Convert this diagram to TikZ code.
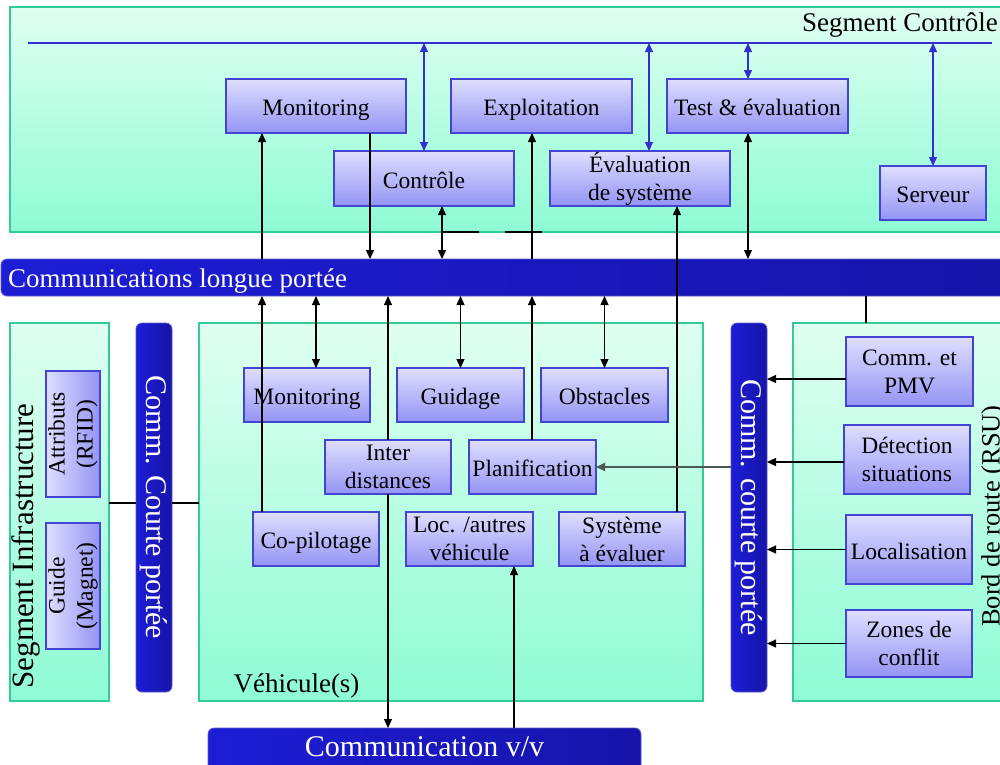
\documentclass[tikz,border=0pt]{standalone}
\usepackage{fontspec}
\setmainfont{Liberation Serif}
\usetikzlibrary{arrows.meta}

\definecolor{segTop}{HTML}{E0FFF1}
\definecolor{segBot}{HTML}{8EFBD5}
\definecolor{segLine}{HTML}{33CC99}
\definecolor{boxTop}{HTML}{DEDEFF}
\definecolor{boxBot}{HTML}{9494F4}
\definecolor{boxLine}{HTML}{4444D4}
\definecolor{barA}{HTML}{1D1DD6}
\definecolor{barB}{HTML}{1614A8}
\definecolor{barLine}{HTML}{5a5ad0}
\definecolor{busBlue}{HTML}{3030CC}
\definecolor{grayLine}{HTML}{4A5A50}

\newcommand\boxfont{\fontsize{23.5}{28}\selectfont}
\newcommand\rbox[7]{\node[#2, minimum width={#5pt-#3pt}, minimum height={#6pt-#4pt}] (#1) at ({(#3+#5)/2},{(#4+#6)/2}) {#7};}

\tikzset{
  seg/.style={draw=segLine, line width=1.2pt, top color=segTop, bottom color=segBot, inner sep=0pt, outer sep=0pt},
  blk/.style={draw=boxLine, line width=1.1pt, top color=boxTop, bottom color=boxBot, inner sep=0pt, outer sep=0pt, font=\boxfont, align=center},
  one/.style={text height=19pt, text depth=0pt},
  vblk/.style={draw=boxLine, line width=1.1pt, left color=boxTop, right color=boxBot, inner sep=0pt, outer sep=0pt},
  hbar/.style={draw=barLine, line width=0.8pt, left color=barA, right color=barB, rounded corners=6pt, inner sep=0pt, outer sep=0pt},
  wtext/.style={text=white, inner sep=0pt},
  conn/.style={line width=1.2pt, color=black},
  ar/.style={conn, -{Triangle[length=9pt,width=8pt]}},
  dar/.style={conn, {Triangle[length=9pt,width=8pt]}-{Triangle[length=9pt,width=8pt]}},
  bdarr/.style={dar, color=busBlue},
  thick2/.style={line width=2pt, color=black},
  garr/.style={line width=1.8pt, color=grayLine, -{Triangle[length=9pt,width=8pt]}},
}

\begin{document}
\begin{tikzpicture}[x=1pt,y=-1pt]
\clip (0,0) rectangle (1000,764);

% ---- segments
\rbox{sc}{seg}{10}{7}{1012}{232}{}
\rbox{infra}{seg}{10}{323}{109}{701}{}
\rbox{veh}{seg}{199}{323}{703}{701}{}
\rbox{rsu}{seg}{793}{323}{1012}{701}{}

% ---- bars
\rbox{clp}{hbar}{1}{259}{1014}{296}{}
\rbox{vv}{hbar}{208}{728}{641}{778}{}
\rbox{ccl}{hbar}{136}{323}{172}{692}{}
\rbox{ccr}{hbar}{731}{323}{767}{692}{}

% ---- labels
\node[anchor=base east, inner sep=0pt, font=\fontsize{27}{32}\selectfont] (lsc) at (998,31) {Segment Contr\^ole};
\node[wtext, anchor=base west, font=\fontsize{27}{32}\selectfont] (lclp) at (8,287) {Communications longue port\'ee};
\node[wtext, font=\fontsize{30}{34}\selectfont] (lvv) at (424.5,747) {Communication v/v};
\node[wtext, rotate=-90, font=\fontsize{30}{34}\selectfont] (lccl) at (ccl.center) {Comm. Courte port\'ee};
\node[wtext, rotate=-90, font=\fontsize{30}{34}\selectfont] (lccr) at (ccr.center) {Comm. courte port\'ee};
\node[rotate=90, inner sep=0pt, font=\fontsize{31}{36}\selectfont] (linfra) at (26,546) {Segment Infrastructure};
\node[anchor=base, inner sep=0pt, font=\fontsize{27}{32}\selectfont] (lveh) at (296.5,692) {V\'ehicule(s)};
\node[rotate=90, anchor=north, inner sep=0pt, font=\fontsize{26.5}{32}\selectfont] (lrsu) at (981,516) {Bord de route (RSU)};

% ---- bus line
\coordinate (bus) at (28,43);
\coordinate (busE) at (992,43);
\draw[line width=1.6pt, busBlue] (bus) -- (busE);

% ---- top boxes
\rbox{mon1}{blk,one}{226}{79}{406}{133}{Monitoring}
\rbox{exp}{blk,one}{451}{79}{632}{133}{Exploitation}
\rbox{tev}{blk,one}{667}{79}{848}{133}{Test \& \'evaluation}
\rbox{ctl}{blk,one}{334}{151}{514}{206}{Contr\^ole}
\rbox{evs}{blk}{550}{151}{730}{206}{\'Evaluation\\de syst\`eme}
\rbox{srv}{blk,one}{880}{166}{986}{220}{Serveur}

% ---- vehicle boxes
\rbox{mon2}{blk,one}{244}{368}{370}{422}{Monitoring}
\rbox{gui}{blk,one}{397}{368}{524}{422}{Guidage}
\rbox{obs}{blk,one}{541}{368}{668}{422}{Obstacles}
\rbox{idist}{blk}{325}{440}{451}{494}{Inter\\distances}
\rbox{pla}{blk,one}{469}{440}{596}{494}{Planification}
\rbox{cop}{blk,one}{253}{512}{379}{566}{Co-pilotage}
\rbox{loc}{blk}{406}{512}{533}{566}{Loc. /autres\\v\'ehicule}
\rbox{sys}{blk}{559}{512}{685}{566}{Syst\`eme\\\`a \'evaluer}

% ---- infrastructure boxes
\rbox{rfid}{vblk}{46}{371}{100}{497}{}
\rbox{mag}{vblk}{46}{523}{100}{649}{}
\node[rotate=90, align=center, inner sep=0pt, font=\boxfont] (lrfid) at (rfid.center) {Attributs\\(RFID)};
\node[rotate=90, align=center, inner sep=0pt, font=\boxfont] (lmag) at (mag.center) {Guide\\(Magnet)};

% ---- roadside boxes
\rbox{pmv}{blk}{846}{337}{973}{406}{Comm. et\\PMV}
\rbox{det}{blk}{844}{425}{970}{494}{D\'etection\\situations}
\rbox{loc2}{blk,one}{846}{515}{972}{584}{Localisation}
\rbox{zon}{blk}{846}{610}{972}{677}{Zones de\\conflit}

% ---- x / y reference coordinates
\coordinate (x262) at (262,0);
\coordinate (x316) at (316,0);
\coordinate (x370) at (370,0);
\coordinate (x388) at (388,0);
\coordinate (x442) at (442,0);
\coordinate (x479) at (479,0);
\coordinate (x505) at (505,0);
\coordinate (x532) at (532,0);
\coordinate (x542) at (542,0);
\coordinate (x514) at (514,0);
\coordinate (x649) at (649,0);
\coordinate (x677) at (677,0);
\coordinate (x748) at (748,0);
\coordinate (x866) at (866,0);
\coordinate (y379) at (0,379);
\coordinate (y462) at (0,462);
\coordinate (y503) at (0,503);

% ---- blue bus arrows
\draw[bdarr] (bus -| ctl.north) -- (ctl.north);
\draw[bdarr] (bus -| x649) -- (evs.north -| x649);
\draw[bdarr] (bus -| x748) -- (tev.north -| x748);
\draw[bdarr] (bus -| srv.north) -- (srv.north);

% ---- top black connectors
\draw[ar] (clp.north -| x262) -- (mon1.south -| x262);
\draw[ar] (mon1.south -| x370) -- (clp.north -| x370);
\draw[dar] (ctl.south -| x442) -- (clp.north -| x442);
\draw[thick2] (sc.south -| x442) -- (sc.south -| x479);
\draw[ar] (clp.north -| x532) -- (exp.south -| x532);
\draw[thick2] (sc.south -| x505) -- (sc.south -| x542);
\draw[ar] (sys.north -| x677) -- (evs.south -| x677);
\draw[dar] (tev.south -| x748) -- (clp.north -| x748);

% ---- vehicle connectors
\draw[ar] (cop.north -| x262) -- (clp.south -| x262);
\draw[dar] (clp.south -| x316) -- (mon2.north -| x316);
\draw[ar] (idist.north -| x388) -- (clp.south -| x388);
\draw[ar] (idist.south -| x388) -- (vv.north -| x388);
\draw[dar] (clp.south -| gui.north) -- (gui.north);
\draw[ar] (pla.north -| x532) -- (clp.south -| x532);
\draw[dar] (clp.south -| obs.north) -- (obs.north);
\draw[ar] (vv.north -| x514) -- (loc.south -| x514);

% ---- infrastructure links
\draw[thick2] (infra.east |- y503) -- (ccl.west |- y503);
\draw[thick2] (ccl.east |- y503) -- (veh.west |- y503);

% ---- roadside links
\draw[thick2] (clp.south -| x866) -- (rsu.north -| x866);
\draw[ar] (pmv.west |- y379) -- (ccr.east |- y379);
\draw[ar] (det.west |- y462) -- (ccr.east |- y462);
\draw[ar] (loc2.west) -- (ccr.east |- loc2.west);
\draw[ar] (zon.west) -- (ccr.east |- zon.west);
\draw[garr] (ccr.west |- pla.east) -- (pla.east);
\end{tikzpicture}
\end{document}
